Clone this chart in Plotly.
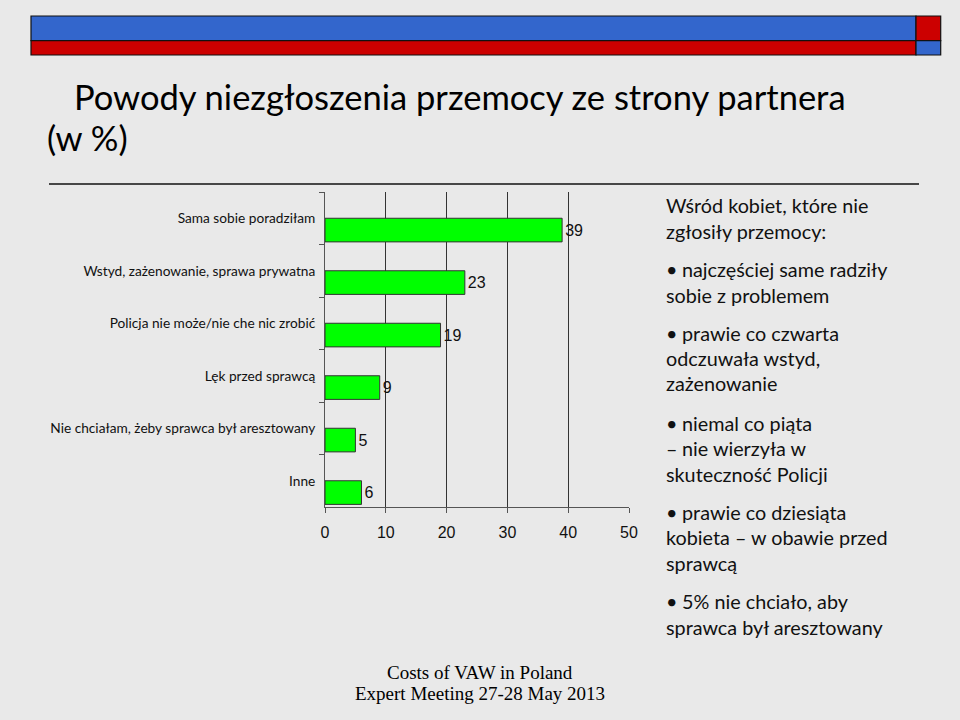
import plotly.graph_objects as go

categories = [
    "Sama sobie poradziłam",
    "Wstyd, zażenowanie, sprawa prywatna",
    "Policja nie może/nie che nic zrobić",
    "Lęk przed sprawcą",
    "Nie chciałam, żeby sprawca był aresztowany",
    "Inne",
]
values = [39, 23, 19, 9, 5, 6]
x_ticks = [0, 10, 20, 30, 40, 50]

title_line1 = "Powody niezgłoszenia przemocy ze strony partnera"
title_line2 = "(w %)"
side_lines = [
    ("Wśród kobiet, które nie", 0),
    ("zgłosiły przemocy:", 0),
    ("•", 0), ("najczęściej same radziły", 1),
    ("sobie z problemem", 0),
    ("•", 0), ("prawie co czwarta", 1),
    ("odczuwała wstyd,", 0),
    ("zażenowanie", 0),
    ("•", 0), ("niemal co piąta", 1),
    ("–", 0), ("nie wierzyła w", 1),
    ("skuteczność Policji", 0),
    ("•", 0), ("prawie co dziesiąta", 1),
    ("kobieta – w obawie przed", 0),
    ("sprawcą", 0),
    ("•", 0), ("5% nie chciało, aby", 1),
    ("sprawca był aresztowany", 0),
]
side_y = [205, 231, 269, 269, 295, 333, 333, 358, 383, 423, 423, 448, 448, 474,
          512, 512, 537, 563, 601, 601, 627]
footer = ["Costs of VAW in Poland", "Expert Meeting 27-28 May 2013"]

W, H = 960, 720
PX0, PX1, PY0, PY1 = 325, 629, 192, 507


def px(x):
    return (x - PX0) / (PX1 - PX0)


def py(y):
    return (PY1 - y) / (PY1 - PY0)


fig = go.Figure()
fig.add_trace(go.Bar(
    orientation="h",
    y=categories,
    x=values,
    text=[str(v) for v in values],
    textposition="outside",
    cliponaxis=False,
    width=0.45,
    offset=0.0,
    marker=dict(color="#00ff00", line=dict(color="#333333", width=1)),
    textfont=dict(family="Liberation Sans, Arial", size=16, color="#111111"),
))

shapes = []
shapes.append(dict(type="rect", xref="paper", yref="paper",
                   x0=px(31), x1=px(916), y0=py(16), y1=py(40.7),
                   fillcolor="#3366cc", line=dict(color="#111111", width=1.2), layer="above"))
shapes.append(dict(type="rect", xref="paper", yref="paper",
                   x0=px(31), x1=px(916), y0=py(40.7), y1=py(55),
                   fillcolor="#cc0000", line=dict(color="#111111", width=1.2), layer="above"))
shapes.append(dict(type="rect", xref="paper", yref="paper",
                   x0=px(916), x1=px(940.7), y0=py(16), y1=py(40.7),
                   fillcolor="#cc0000", line=dict(color="#111111", width=1.2), layer="above"))
shapes.append(dict(type="rect", xref="paper", yref="paper",
                   x0=px(916), x1=px(940.7), y0=py(40.7), y1=py(55),
                   fillcolor="#3366cc", line=dict(color="#111111", width=1.2), layer="above"))
shapes.append(dict(type="line", xref="paper", yref="paper",
                   x0=px(49), x1=px(919), y0=py(184), y1=py(184),
                   line=dict(color="#111111", width=1.3)))

annotations = []
annotations.append(dict(xref="paper", yref="paper", x=px(72), y=py(97),
                        xanchor="left", yanchor="middle", showarrow=False,
                        text=title_line1,
                        font=dict(family="Lato, Carlito, Calibri", size=34.5, color="#000000")))
annotations.append(dict(xref="paper", yref="paper", x=px(45), y=py(138),
                        xanchor="left", yanchor="middle", showarrow=False,
                        text=title_line2,
                        font=dict(family="Lato, Carlito, Calibri", size=34.5, color="#000000")))
for (t, indent), yy in zip(side_lines, side_y):
    annotations.append(dict(xref="paper", yref="paper",
                            x=px(664 + 16 * indent), y=py(yy),
                            xanchor="left", yanchor="middle", showarrow=False,
                            text=t,
                            font=dict(family="Lato, Carlito, Calibri", size=19.8, color="#111111")))
for t, yy in zip(footer, [672, 693]):
    annotations.append(dict(xref="paper", yref="paper", x=px(480), y=py(yy),
                            xanchor="center", yanchor="middle", showarrow=False,
                            text=t,
                            font=dict(family="Liberation Serif, Times New Roman", size=19, color="#000000")))

fig.update_layout(
    width=W, height=H,
    margin=dict(l=PX0, r=W - PX1, t=PY0, b=H - PY1, pad=0),
    paper_bgcolor="#e9e9e9",
    plot_bgcolor="rgba(0,0,0,0)",
    showlegend=False,
    shapes=shapes,
    annotations=annotations,
    xaxis=dict(
        range=[0, 50], tickvals=x_ticks, ticktext=[str(v) for v in x_ticks],
        showgrid=True, gridcolor="#333333", gridwidth=1,
        zeroline=False, showline=True, linecolor="#555555", linewidth=1,
        ticks="outside", ticklen=5, tickcolor="#555555",
        ticklabelstandoff=6,
        tickfont=dict(family="Liberation Sans, Arial", size=16, color="#111111"),
        fixedrange=True,
    ),
    yaxis=dict(
        type="category", categoryorder="array", categoryarray=categories,
        range=[len(categories) - 0.5, -0.5],
        tickson="boundaries", ticks="outside", ticklen=5, tickcolor="#555555",
        ticklabelstandoff=6,
        showgrid=False, zeroline=False, showline=True, linecolor="#555555", linewidth=1,
        tickfont=dict(family="Lato, Carlito, Calibri", size=13.7, color="#111111"),
        fixedrange=True,
    ),
)

fig.write_html("out.html", config={"displayModeBar": False},
               post_script="document.body.style.margin='0';document.body.style.background='#e9e9e9';")
